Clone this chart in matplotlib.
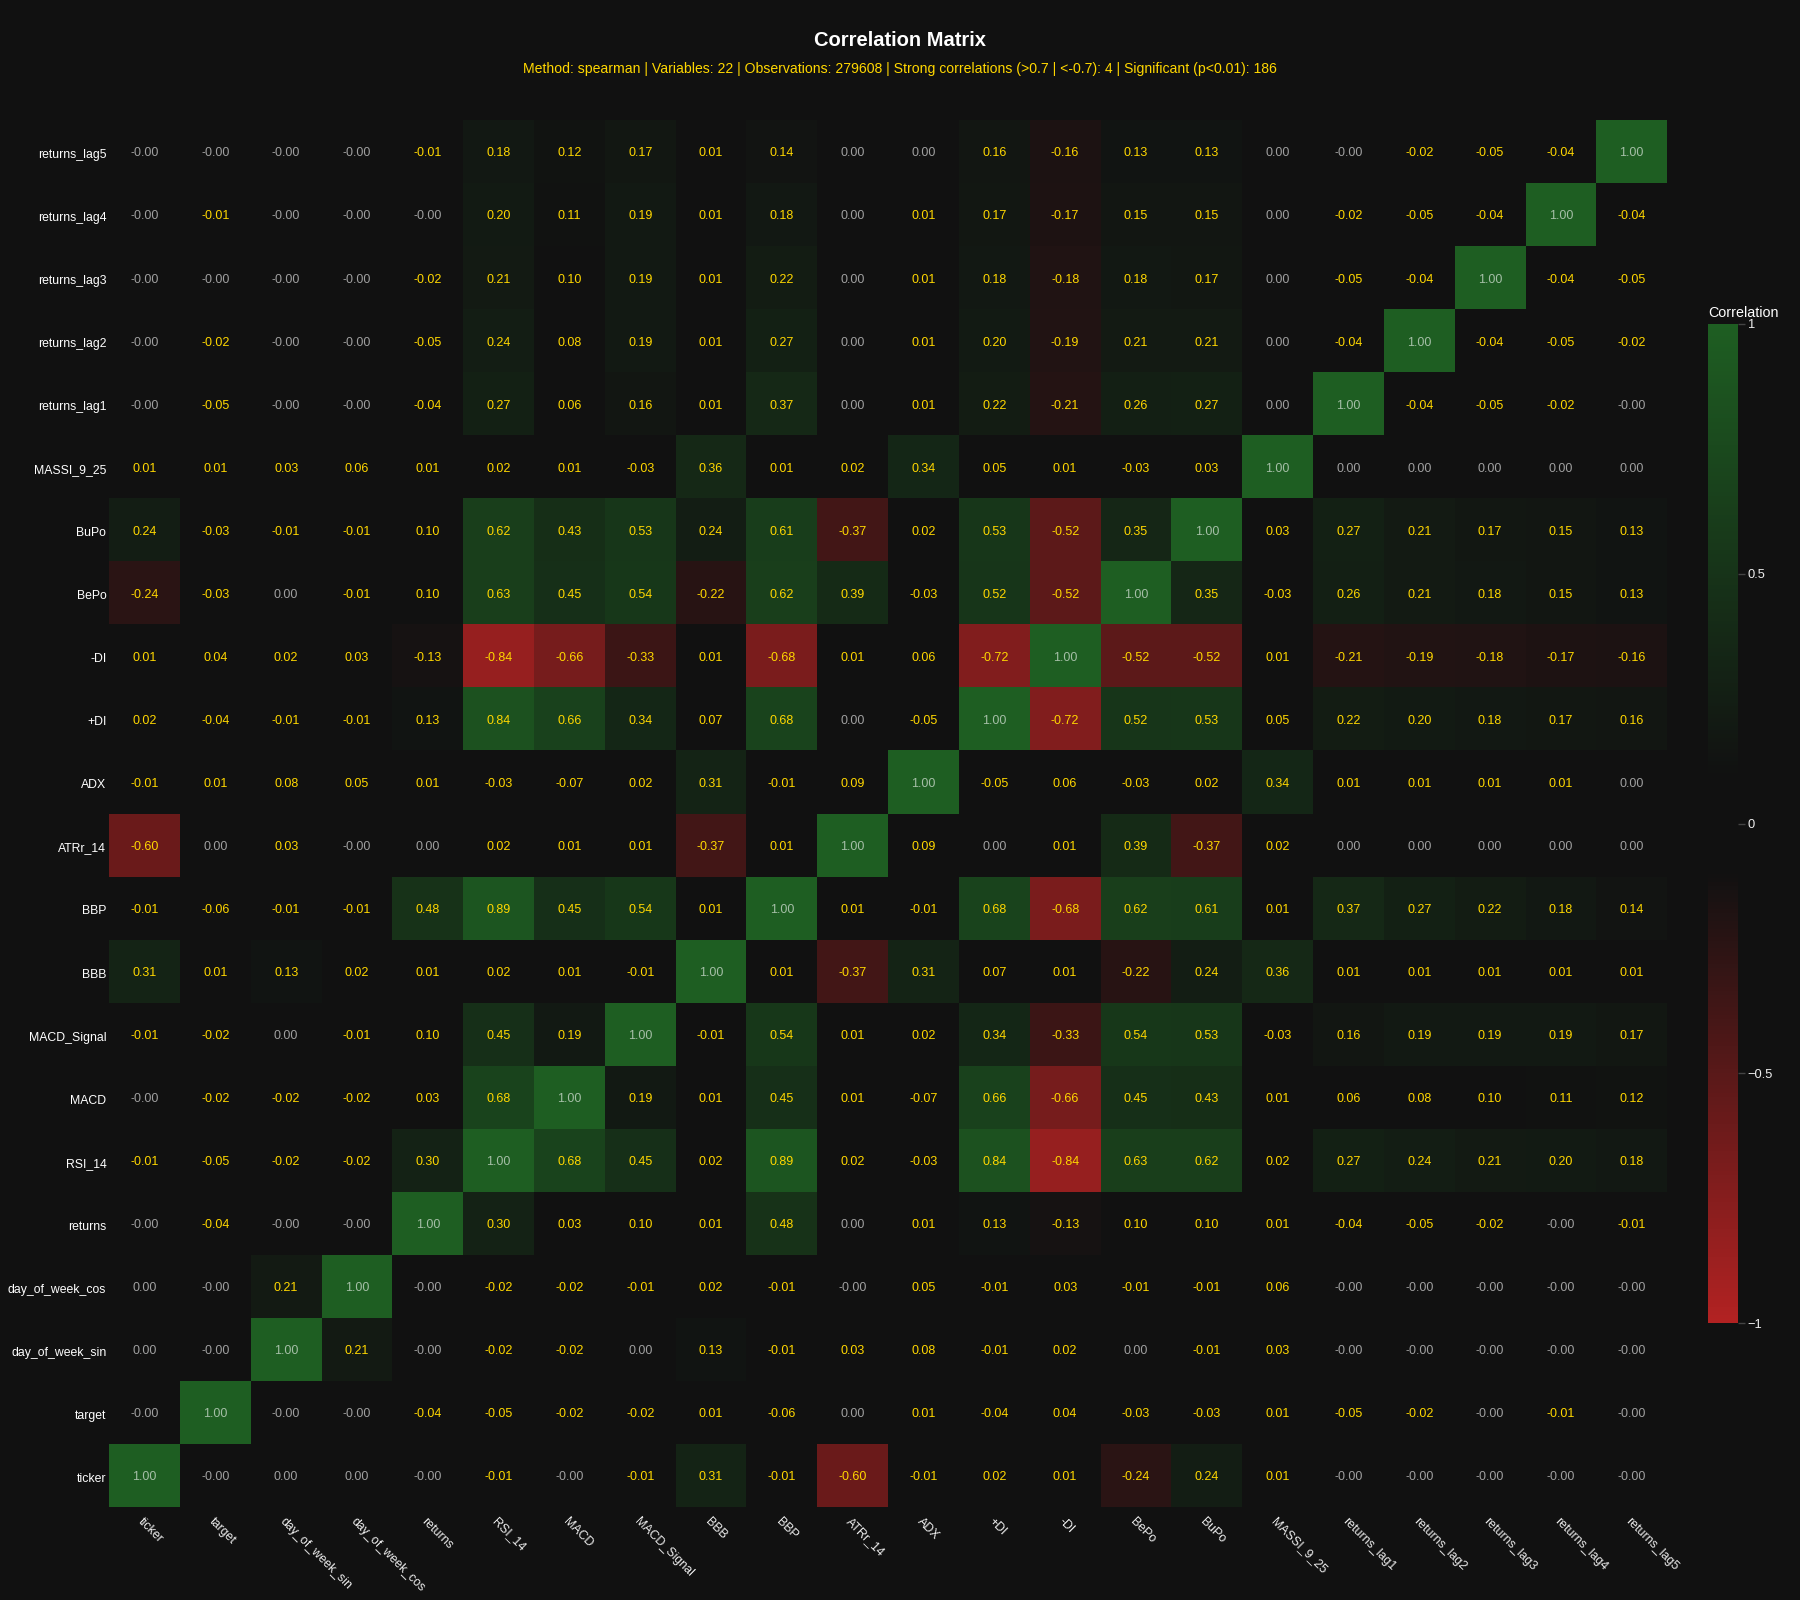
import numpy as np
import matplotlib
matplotlib.use("Agg")
import matplotlib.pyplot as plt
from matplotlib.colors import LinearSegmentedColormap

plt.rcParams['font.family'] = ['Liberation Sans', 'DejaVu Sans']

# ------------ DATA --------------------------------------------
variables = ['ticker', 'target', 'day_of_week_sin', 'day_of_week_cos', 'returns',
             'RSI_14', 'MACD', 'MACD_Signal', 'BBB', 'BBP', 'ATRr_14', 'ADX',
             '+DI', '-DI', 'BePo', 'BuPo', 'MASSI_9_25', 'returns_lag1',
             'returns_lag2', 'returns_lag3', 'returns_lag4', 'returns_lag5']

# one row per variable, same order as the columns (ticker is the bottom row)
corr_rows = [
    [1.00, -0.00, 0.00, 0.00, -0.00, -0.01, -0.00, -0.01, 0.31, -0.01, -0.60, -0.01, 0.02, 0.01, -0.24, 0.24, 0.01, -0.00, -0.00, -0.00, -0.00, -0.00],
    [-0.00, 1.00, -0.00, -0.00, -0.04, -0.05, -0.02, -0.02, 0.01, -0.06, 0.00, 0.01, -0.04, 0.04, -0.03, -0.03, 0.01, -0.05, -0.02, -0.00, -0.01, -0.00],
    [0.00, -0.00, 1.00, 0.21, -0.00, -0.02, -0.02, 0.00, 0.13, -0.01, 0.03, 0.08, -0.01, 0.02, 0.00, -0.01, 0.03, -0.00, -0.00, -0.00, -0.00, -0.00],
    [0.00, -0.00, 0.21, 1.00, -0.00, -0.02, -0.02, -0.01, 0.02, -0.01, -0.00, 0.05, -0.01, 0.03, -0.01, -0.01, 0.06, -0.00, -0.00, -0.00, -0.00, -0.00],
    [-0.00, -0.04, -0.00, -0.00, 1.00, 0.30, 0.03, 0.10, 0.01, 0.48, 0.00, 0.01, 0.13, -0.13, 0.10, 0.10, 0.01, -0.04, -0.05, -0.02, -0.00, -0.01],
    [-0.01, -0.05, -0.02, -0.02, 0.30, 1.00, 0.68, 0.45, 0.02, 0.89, 0.02, -0.03, 0.84, -0.84, 0.63, 0.62, 0.02, 0.27, 0.24, 0.21, 0.20, 0.18],
    [-0.00, -0.02, -0.02, -0.02, 0.03, 0.68, 1.00, 0.19, 0.01, 0.45, 0.01, -0.07, 0.66, -0.66, 0.45, 0.43, 0.01, 0.06, 0.08, 0.10, 0.11, 0.12],
    [-0.01, -0.02, 0.00, -0.01, 0.10, 0.45, 0.19, 1.00, -0.01, 0.54, 0.01, 0.02, 0.34, -0.33, 0.54, 0.53, -0.03, 0.16, 0.19, 0.19, 0.19, 0.17],
    [0.31, 0.01, 0.13, 0.02, 0.01, 0.02, 0.01, -0.01, 1.00, 0.01, -0.37, 0.31, 0.07, 0.01, -0.22, 0.24, 0.36, 0.01, 0.01, 0.01, 0.01, 0.01],
    [-0.01, -0.06, -0.01, -0.01, 0.48, 0.89, 0.45, 0.54, 0.01, 1.00, 0.01, -0.01, 0.68, -0.68, 0.62, 0.61, 0.01, 0.37, 0.27, 0.22, 0.18, 0.14],
    [-0.60, 0.00, 0.03, -0.00, 0.00, 0.02, 0.01, 0.01, -0.37, 0.01, 1.00, 0.09, 0.00, 0.01, 0.39, -0.37, 0.02, 0.00, 0.00, 0.00, 0.00, 0.00],
    [-0.01, 0.01, 0.08, 0.05, 0.01, -0.03, -0.07, 0.02, 0.31, -0.01, 0.09, 1.00, -0.05, 0.06, -0.03, 0.02, 0.34, 0.01, 0.01, 0.01, 0.01, 0.00],
    [0.02, -0.04, -0.01, -0.01, 0.13, 0.84, 0.66, 0.34, 0.07, 0.68, 0.00, -0.05, 1.00, -0.72, 0.52, 0.53, 0.05, 0.22, 0.20, 0.18, 0.17, 0.16],
    [0.01, 0.04, 0.02, 0.03, -0.13, -0.84, -0.66, -0.33, 0.01, -0.68, 0.01, 0.06, -0.72, 1.00, -0.52, -0.52, 0.01, -0.21, -0.19, -0.18, -0.17, -0.16],
    [-0.24, -0.03, 0.00, -0.01, 0.10, 0.63, 0.45, 0.54, -0.22, 0.62, 0.39, -0.03, 0.52, -0.52, 1.00, 0.35, -0.03, 0.26, 0.21, 0.18, 0.15, 0.13],
    [0.24, -0.03, -0.01, -0.01, 0.10, 0.62, 0.43, 0.53, 0.24, 0.61, -0.37, 0.02, 0.53, -0.52, 0.35, 1.00, 0.03, 0.27, 0.21, 0.17, 0.15, 0.13],
    [0.01, 0.01, 0.03, 0.06, 0.01, 0.02, 0.01, -0.03, 0.36, 0.01, 0.02, 0.34, 0.05, 0.01, -0.03, 0.03, 1.00, 0.00, 0.00, 0.00, 0.00, 0.00],
    [-0.00, -0.05, -0.00, -0.00, -0.04, 0.27, 0.06, 0.16, 0.01, 0.37, 0.00, 0.01, 0.22, -0.21, 0.26, 0.27, 0.00, 1.00, -0.04, -0.05, -0.02, -0.00],
    [-0.00, -0.02, -0.00, -0.00, -0.05, 0.24, 0.08, 0.19, 0.01, 0.27, 0.00, 0.01, 0.20, -0.19, 0.21, 0.21, 0.00, -0.04, 1.00, -0.04, -0.05, -0.02],
    [-0.00, -0.00, -0.00, -0.00, -0.02, 0.21, 0.10, 0.19, 0.01, 0.22, 0.00, 0.01, 0.18, -0.18, 0.18, 0.17, 0.00, -0.05, -0.04, 1.00, -0.04, -0.05],
    [-0.00, -0.01, -0.00, -0.00, -0.00, 0.20, 0.11, 0.19, 0.01, 0.18, 0.00, 0.01, 0.17, -0.17, 0.15, 0.15, 0.00, -0.02, -0.05, -0.04, 1.00, -0.04],
    [-0.00, -0.00, -0.00, -0.00, -0.01, 0.18, 0.12, 0.17, 0.01, 0.14, 0.00, 0.00, 0.16, -0.16, 0.13, 0.13, 0.00, -0.00, -0.02, -0.05, -0.04, 1.00],
]

method = 'spearman'
n_obs = 279608
n_strong = 4
n_signif = 186
cbar_ticks = [-1, -0.5, 0, 0.5, 1]
cbar_ticklabels = ['\u22121', '\u22120.5', '0', '0.5', '1']

# ------------ STYLE -------------------
BG = '#111111'
GOLD = '#FFD700'
cmap = LinearSegmentedColormap.from_list(
    'rg', [(0.0, '#B22222'), (0.45, BG), (0.55, BG), (1.0, '#1E5E22')])

corr = np.array(corr_rows)
n = len(variables)

fig = plt.figure(figsize=(18, 16), dpi=100, facecolor=BG)
ax = fig.add_axes([0.0606, 0.0581, 0.8656, 0.8669])
ax.set_facecolor(BG)

mesh = ax.pcolormesh(np.arange(n + 1), np.arange(n + 1), corr,
                     cmap=cmap, vmin=-1, vmax=1)

# cell labels: gold if significant, dimmed white otherwise (and on the diagonal)
for i in range(n):
    for j in range(n):
        v = corr[i, j]
        txt = f'{v:.2f}'
        signif = (i != j) and round(abs(v), 2) > 0
        if signif:
            ax.text(j + 0.5, i + 0.47, txt, ha='center', va='center',
                    fontsize=9, color=GOLD)
        else:
            ax.text(j + 0.5, i + 0.47, txt, ha='center', va='center',
                    fontsize=9, color='white', alpha=0.6)

ax.set_xlim(0, n)
ax.set_ylim(0, n)
ax.set_xticks(np.arange(n) + 0.5)
ax.set_yticks(np.arange(n) + 0.47)
ax.set_xticklabels(variables, rotation=-45, ha='left', va='top',
                   rotation_mode='anchor', color='#eeeeee', fontsize=8.9)
ax.set_yticklabels(variables, color='white', fontsize=8.8)
ax.tick_params(length=0, pad=2)
ax.tick_params(axis='x', pad=6)
for s in ax.spines.values():
    s.set_visible(False)

# colorbar
cax = fig.add_axes([0.9489, 0.1731, 0.0167, 0.6244])
cb = fig.colorbar(mesh, cax=cax)
cb.outline.set_visible(False)
cb.set_ticks(cbar_ticks)
cb.set_ticklabels(cbar_ticklabels)
cax.tick_params(colors='#444444', labelcolor='#eeeeee', length=5, width=1,
                labelsize=9.3, pad=2)
cax.set_title('Correlation', loc='left', color='white', fontsize=10.3, pad=5)

# titles
fig.text(0.5, 1 - 41 / 1600, 'Correlation Matrix', ha='center', va='center',
         fontsize=14.5, fontweight='bold', color='white')
subtitle = (f'Method: {method} | Variables: {n} | Observations: {n_obs} | '
            f'Strong correlations (>0.7 | <-0.7): {n_strong} | '
            f'Significant (p<0.01): {n_signif}')
fig.text(0.5, 1 - 69 / 1600, subtitle, ha='center', va='center',
         fontsize=10.1, color=GOLD)

fig.savefig('out.png', dpi=100, facecolor=BG)
